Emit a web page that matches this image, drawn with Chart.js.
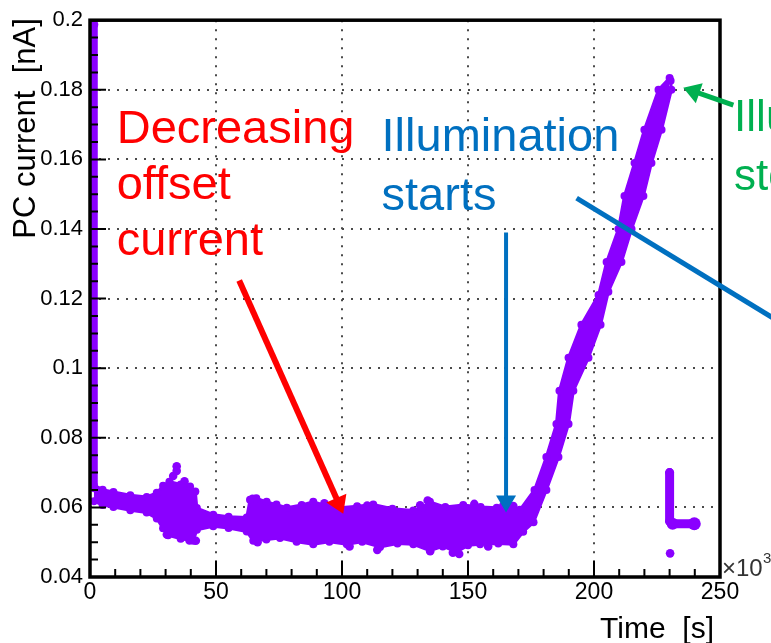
<!DOCTYPE html>
<html>
<head>
<meta charset="utf-8">
<script src="https://cdn.jsdelivr.net/npm/chart.js@4.4.0/dist/chart.umd.min.js"></script>
<style>
  html, body { margin: 0; padding: 0; background: #fff; }
  canvas { display: block; }
</style>
</head>
<body>
<canvas id="pcChart" width="771" height="643"></canvas>
<script>
// axis ticks
const xTicks = [0, 50, 100, 150, 200, 250];
const yTicks = [0.04, 0.06, 0.08, 0.1, 0.12, 0.14, 0.16, 0.18, 0.2];

// upper edge of the measured band (flat part, then left side of the rise)
const upperX = [1.5, 5, 9.3, 16, 22.5, 26.5, 29, 31.5, 36, 39.7, 41.8, 42.4, 48.9, 55, 62.2, 63.5, 66, 70.1, 74, 78.1,
  84, 88.6, 94, 99.2, 106, 112.4, 120, 128.3, 132, 134.9, 141, 148.1, 155, 161.4, 166, 170.6,
  176.4, 181.1, 185.1, 186.3, 189.9, 195.0, 201.8, 205.0, 209.7, 212.1, 216.1, 220.0, 225.6, 230.0];
const upperY = [0.0664, 0.0651, 0.0644, 0.0635, 0.0630, 0.0642, 0.0662, 0.0674, 0.0666, 0.0660, 0.0646, 0.0598, 0.0579, 0.0573, 0.0571, 0.0622, 0.0626, 0.0616, 0.0608, 0.0599,
  0.0607, 0.0616, 0.0604, 0.0599, 0.0603, 0.0608, 0.0596, 0.0591, 0.0599, 0.0616, 0.0601, 0.0607, 0.0601, 0.0599, 0.0603, 0.0593,
  0.0650, 0.0745, 0.0840, 0.0935, 0.1030, 0.1125, 0.1210, 0.1305, 0.1400, 0.1495, 0.1590, 0.1685, 0.1800, 0.1834];

// lower edge of the band (flat part, then right side of the rise)
const lowerX = [1.5, 5, 9.3, 16, 22.5, 26.5, 29, 31, 36, 41, 42.4, 48.9, 55, 62.2, 64.8, 70, 75.4, 82, 88.6, 95,
  101.9, 108, 115.1, 122, 128.3, 134.9, 140, 145.5, 150, 154.8, 162, 168, 171.9,
  176.0, 181.1, 185.9, 189.9, 191.8, 197.8, 202.6, 205.7, 210.9, 214.9, 219.6, 222.8, 226.8, 230.7, 230.4];
const lowerY = [0.0618, 0.0607, 0.0601, 0.0592, 0.0585, 0.0568, 0.0540, 0.0520, 0.0510, 0.0504, 0.0536, 0.0546, 0.0541, 0.0531, 0.0504, 0.0508, 0.0512, 0.0501, 0.0494, 0.0501,
  0.0494, 0.0501, 0.0486, 0.0496, 0.0494, 0.0476, 0.0488, 0.0472, 0.0491, 0.0494, 0.0496, 0.0494, 0.0530,
  0.0557, 0.0650, 0.0745, 0.0840, 0.0935, 0.1030, 0.1125, 0.1220, 0.1305, 0.1400, 0.1495, 0.1590, 0.1685, 0.1800, 0.1826];

// initial decay at t = 0
const spikeX = [1.7, 1.7];
const spikeY = [0.1988, 0.0655];

// short run after the illumination stops
const tailX = [230, 230, 231.2, 239.8];
const tailY = [0.0700, 0.0560, 0.0553, 0.0553];

// scattered single points outside the band
const strayX = [34.4, 34.4, 33, 37.5, 30.5, 39.5, 42, 64.5, 66.5, 93, 103, 110, 114, 131, 134, 135, 144, 146.5, 152.5, 158, 164, 168, 230.2];
const strayY = [0.0718, 0.0705, 0.0690, 0.0675, 0.0522, 0.0505, 0.0504, 0.0625, 0.0500, 0.0612, 0.0488, 0.0605, 0.0478, 0.0606, 0.0620, 0.0474, 0.0470, 0.0466, 0.0610, 0.0488, 0.0605, 0.0604, 0.0468];

const purple = "#8a00ff";
const toPoints = (xs, ys) => xs.map((x, i) => ({ x: x, y: ys[i] }));

// annotations (data units)
const notes = [
    { lines: ["Decreasing", "offset", "current"], x: 10.6, y: [0.1646, 0.1485, 0.1324], color: "#ff0000", size: 47 },
    { lines: ["Illumination", "starts"], x: 115.7, y: [0.1623, 0.1456], color: "#0070c0", size: 47 },
    { lines: ["Illumination", "stops"], x: 255.6, y: [0.1681, 0.1512], color: "#00b050", size: 44 }
];
const arrows = [
    { from: [59.2, 0.1252], to: [100.5, 0.0582], color: "#ff0000", width: 6, head: true },
    { from: [165.1, 0.1390], to: [165.1, 0.0585], color: "#0070c0", width: 4, head: true },
    { from: [193.1, 0.1489], to: [272, 0.1140], color: "#0070c0", width: 5, head: false },
    { from: [255.3, 0.1756], to: [235.4, 0.1806], color: "#00b050", width: 5, head: true }
];

const FONT = "'Liberation Sans', Arial, Helvetica, sans-serif";

// ROOT style frame, inner ticks, titles and the slide annotations
const decorPlugin = {
    id: "decor",
    afterDatasetsDraw(chart) {
        const { ctx, chartArea: a, scales: { x, y } } = chart;
        ctx.save();
        ctx.strokeStyle = "#000";
        ctx.lineWidth = 2;
        ctx.beginPath();
        for (let v = 0; v <= 250; v += 10) {
            const px = x.getPixelForValue(v);
            const len = v % 50 === 0 ? 16 : 8;
            ctx.moveTo(px, a.bottom);
            ctx.lineTo(px, a.bottom - len);
        }
        for (let k = 0; k <= 32; k++) {
            const py = y.getPixelForValue(0.04 + k * 0.005);
            const len = k % 4 === 0 ? 16 : 8;
            ctx.moveTo(a.left, py);
            ctx.lineTo(a.left + len, py);
        }
        ctx.stroke();
        ctx.lineWidth = 3.5;
        ctx.strokeRect(a.left, a.top, a.right - a.left, a.bottom - a.top);
        ctx.restore();
    },
    afterDraw(chart) {
        const { ctx, chartArea: a, scales: { x, y } } = chart;
        ctx.save();

        // axis titles
        ctx.fillStyle = "#000";
        ctx.font = "30px " + FONT;
        ctx.textAlign = "right";
        ctx.textBaseline = "alphabetic";
        ctx.fillText("Time  [s]", a.right - 6, 638);
        ctx.font = "31px " + FONT;
        ctx.save();
        ctx.translate(35, a.top - 2);
        ctx.rotate(-Math.PI / 2);
        ctx.fillText("PC current  [nA]", 0, 0);
        ctx.restore();

        // x10^3 multiplier
        ctx.textAlign = "left";
        ctx.fillStyle = "#333";
        ctx.font = "24px " + FONT;
        ctx.fillText("\u00d710", a.right + 2, a.bottom - 1);
        ctx.font = "15px " + FONT;
        ctx.fillText("3", a.right + 43, a.bottom - 14);

        // text notes
        notes.forEach(n => {
            ctx.font = n.size + "px " + FONT;
            ctx.fillStyle = n.color;
            n.lines.forEach((t, i) => {
                ctx.fillText(t, x.getPixelForValue(n.x), y.getPixelForValue(n.y[i]));
            });
        });

        // arrows
        arrows.forEach(ar => {
            const x1 = x.getPixelForValue(ar.from[0]), y1 = y.getPixelForValue(ar.from[1]);
            const x2 = x.getPixelForValue(ar.to[0]), y2 = y.getPixelForValue(ar.to[1]);
            const ang = Math.atan2(y2 - y1, x2 - x1);
            const headLen = ar.head ? 17 : 0;
            const headW = 8 + ar.width / 2;
            ctx.strokeStyle = ar.color;
            ctx.fillStyle = ar.color;
            ctx.lineWidth = ar.width;
            ctx.lineCap = "butt";
            ctx.beginPath();
            ctx.moveTo(x1, y1);
            ctx.lineTo(x2 - Math.cos(ang) * headLen * 0.8, y2 - Math.sin(ang) * headLen * 0.8);
            ctx.stroke();
            if (ar.head) {
                const bx = x2 - Math.cos(ang) * headLen, by = y2 - Math.sin(ang) * headLen;
                ctx.beginPath();
                ctx.moveTo(x2, y2);
                ctx.lineTo(bx + Math.sin(ang) * headW, by - Math.cos(ang) * headW);
                ctx.lineTo(bx - Math.sin(ang) * headW, by + Math.cos(ang) * headW);
                ctx.closePath();
                ctx.fill();
            }
        });
        ctx.restore();
    }
};

const gridColor = ctx => {
    const v = ctx.tick ? ctx.tick.value : null;
    return (v === 0 || v === 250 || v === 0.04 || v === 0.2) ? "rgba(0,0,0,0)" : "#4a4a4a";
};

const ctx = document.getElementById("pcChart").getContext("2d");
window.pcChartInstance = new Chart(ctx, {
    type: "line",
    data: {
        datasets: [
            {
                label: "upper",
                data: toPoints(upperX, upperY),
                borderColor: purple,
                backgroundColor: purple,
                borderWidth: 3,
                fill: "+1",
                pointRadius: 4,
                pointBorderWidth: 0,
                pointBackgroundColor: purple
            },
            {
                label: "lower",
                data: toPoints(lowerX, lowerY),
                borderColor: purple,
                backgroundColor: purple,
                borderWidth: 3,
                fill: false,
                pointRadius: 4,
                pointBorderWidth: 0,
                pointBackgroundColor: purple
            },
            {
                label: "spike",
                data: toPoints(spikeX, spikeY),
                borderColor: purple,
                borderWidth: 7,
                borderCapStyle: "round",
                fill: false,
                pointRadius: 4,
                pointBorderWidth: 0,
                pointBackgroundColor: purple
            },
            {
                label: "tail",
                data: toPoints(tailX, tailY),
                borderColor: purple,
                borderWidth: 9,
                borderCapStyle: "round",
                borderJoinStyle: "round",
                fill: false,
                pointRadius: [4.5, 4.5, 6, 6.5],
                pointBorderWidth: 0,
                pointBackgroundColor: purple
            },
            {
                label: "stray",
                data: toPoints(strayX, strayY),
                showLine: false,
                fill: false,
                pointRadius: 4.3,
                pointBorderWidth: 0,
                pointBackgroundColor: purple
            }
        ]
    },
    options: {
        responsive: false,
        animation: false,
        devicePixelRatio: 1,
        layout: { padding: { top: 16, right: 51, left: 0, bottom: 0 } },
        plugins: {
            legend: { display: false },
            tooltip: { enabled: false }
        },
        elements: { line: { tension: 0 } },
        scales: {
            x: {
                type: "linear",
                min: 0,
                max: 250,
                afterBuildTicks: s => { s.ticks = xTicks.map(v => ({ value: v })); },
                afterFit: s => { s.height = 66; },
                grid: { color: gridColor, lineWidth: 2, drawTicks: false },
                border: { display: false, dash: [2, 7] },
                ticks: {
                    color: "#000",
                    font: { family: FONT, size: 23 },
                    padding: 2,
                    maxRotation: 0,
                    autoSkip: false
                }
            },
            y: {
                type: "linear",
                min: 0.04,
                max: 0.2,
                afterBuildTicks: s => { s.ticks = yTicks.map(v => ({ value: v })); },
                afterFit: s => { s.width = 90; },
                grid: { color: gridColor, lineWidth: 2, drawTicks: false },
                border: { display: false, dash: [2, 7] },
                ticks: {
                    color: "#000",
                    font: { family: FONT, size: 22 },
                    padding: 7,
                    autoSkip: false,
                    callback: v => String(+v.toFixed(2))
                }
            }
        }
    },
    plugins: [decorPlugin]
});
</script>
</body>
</html>
